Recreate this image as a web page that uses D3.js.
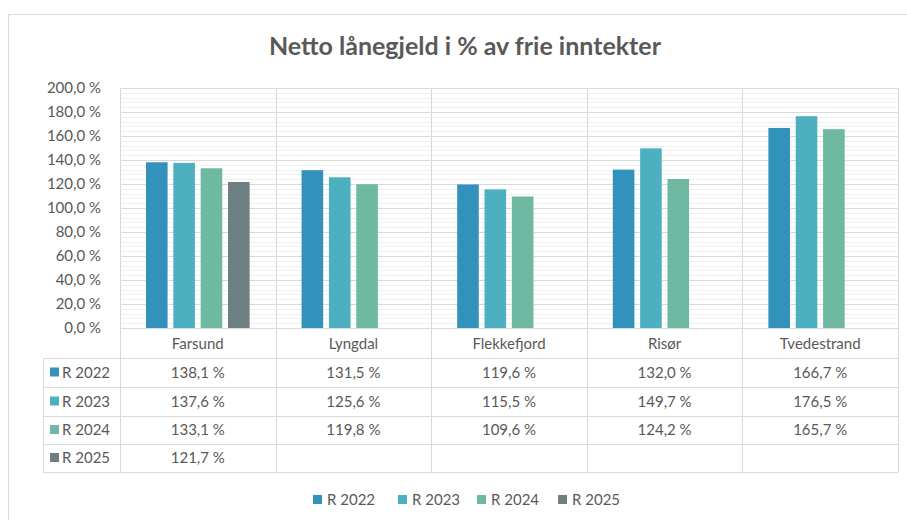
<!DOCTYPE html>
<html><head><meta charset="utf-8">
<script src="https://cdn.jsdelivr.net/npm/d3@7"></script>
<style>body{margin:0;background:#fff}svg{display:block}text{font-family:Lato,"Open Sans",sans-serif}</style>
</head><body><svg id="c" width="907" height="520"></svg>
<script>
const categories = ["Farsund","Lyngdal","Flekkefjord","Risør","Tvedestrand"];
const seriesNames = ["R 2022","R 2023","R 2024","R 2025"];
const r2022 = [138.1,131.5,119.6,132.0,166.7];
const r2023 = [137.6,125.6,115.5,149.7,176.5];
const r2024 = [133.1,119.8,109.6,124.2,165.7];
const r2025 = [121.7,null,null,null,null];
const yTicks = [0,20,40,60,80,100,120,140,160,180,200];
const colors = ["#3392bb","#4db0c1","#6fb9a2","#6e7f81"];
const series = [r2022,r2023,r2024,r2025];

const svg = d3.select("#c");
const fmt = v => v.toFixed(1).replace(".", ",") + " %";
const L=120, R=898, T=88, B=328;
const txt="#595959", grid="#d9d9d9", minor="#f0f0f0";
const fs=15;

// frame
svg.append("path").attr("d","M8.5,520 V14.5 H907").attr("fill","none").attr("stroke","#d9d9d9");

svg.append("text").attr("x",465).attr("y",55).attr("text-anchor","middle")
  .attr("font-size",25).attr("font-weight","bold").attr("fill",txt).text("Netto lånegjeld i % av frie inntekter");

const x = d3.scaleBand().domain(categories).range([L,R]);
const x1 = d3.scaleBand().domain(seriesNames).range([0,x.bandwidth()]).paddingInner(0.21).paddingOuter(0.95);
const y = d3.scaleLinear().domain([0,200]).range([B,T]);

// minor grid
const minorTicks = d3.range(0,200,4).filter(v=>v%20!==0);
svg.append("g").selectAll("line").data(minorTicks).join("line")
  .attr("x1",L).attr("x2",R).attr("y1",d=>Math.round(y(d))+0.5).attr("y2",d=>Math.round(y(d))+0.5)
  .attr("stroke",minor);
// major grid
svg.append("g").selectAll("line").data(yTicks).join("line")
  .attr("x1",L).attr("x2",R).attr("y1",d=>Math.round(y(d))+0.5).attr("y2",d=>Math.round(y(d))+0.5)
  .attr("stroke",grid);

// y axis labels
const yAxis = d3.axisLeft(y).tickValues(yTicks).tickSize(0).tickPadding(0).tickFormat(fmt);
const ga = svg.append("g").attr("transform",`translate(${L-19},0)`).call(yAxis);
ga.select(".domain").remove();
ga.selectAll("text").attr("font-size",fs).attr("fill",txt).attr("font-family","Lato,'Open Sans',sans-serif");

// table geometry
const rowTops=[358,387,416,444,472];
const TL=43, TB=472;
const vx = categories.map(c=>x(c)).concat([R]);
svg.append("g").selectAll("line").data(vx).join("line")
  .attr("x1",d=>Math.round(d)+0.5).attr("x2",d=>Math.round(d)+0.5).attr("y1",T).attr("y2",TB).attr("stroke",grid);
svg.append("line").attr("x1",TL+0.5).attr("x2",TL+0.5).attr("y1",rowTops[0]).attr("y2",TB).attr("stroke",grid);
svg.append("g").selectAll("line").data(rowTops).join("line")
  .attr("x1",TL).attr("x2",R).attr("y1",d=>d+0.5).attr("y2",d=>d+0.5).attr("stroke",grid);

// bars
series.forEach((s,i)=>{
  svg.append("g").selectAll("rect").data(categories.map((c,j)=>({c,v:s[j]})).filter(d=>d.v!=null)).join("rect")
    .attr("x",d=>x(d.c)+x1(seriesNames[i])).attr("width",x1.bandwidth())
    .attr("y",d=>y(d.v)).attr("height",d=>B-y(d.v)).attr("fill",colors[i]);
});

// category labels
svg.append("g").selectAll("text").data(categories).join("text")
  .attr("x",d=>x(d)+x.bandwidth()/2).attr("y",349).attr("text-anchor","middle")
  .attr("font-size",fs).attr("fill",txt).text(d=>d);

// table rows
series.forEach((s,i)=>{
  const cy=(rowTops[i]+rowTops[i+1])/2;
  svg.append("rect").attr("x",50).attr("y",cy-5).attr("width",9).attr("height",9).attr("fill",colors[i]);
  svg.append("text").attr("x",62).attr("y",cy+5).attr("font-size",fs).attr("fill",txt).text(seriesNames[i]);
  svg.append("g").selectAll("text").data(categories.map((c,j)=>({c,v:s[j]})).filter(d=>d.v!=null)).join("text")
    .attr("x",d=>x(d.c)+x.bandwidth()/2).attr("y",cy+5).attr("text-anchor","middle")
    .attr("font-size",fs).attr("fill",txt).text(d=>fmt(d.v));
});

// legend
const lx=[313,398,477,558];
seriesNames.forEach((n,i)=>{
  svg.append("rect").attr("x",lx[i]).attr("y",495).attr("width",9).attr("height",9).attr("fill",colors[i]);
  svg.append("text").attr("x",lx[i]+14).attr("y",505).attr("font-size",fs).attr("fill",txt).text(n);
});
</script></body></html>
